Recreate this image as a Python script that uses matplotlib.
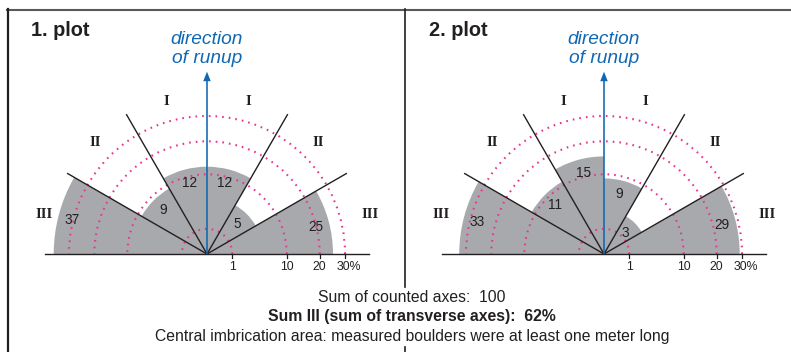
import numpy as np
import matplotlib
matplotlib.use("Agg")
import matplotlib.pyplot as plt
from matplotlib.patches import Wedge, Arc
from matplotlib.lines import Line2D

# ---------------- data ----------------
sector_names = ["III", "II", "I", "I", "II", "III"]          # left -> right
plot1_values = [37, 9, 12, 12, 5, 25]
plot2_values = [33, 11, 15, 9, 3, 29]
plot_titles = ["1. plot", "2. plot"]
ring_values = [1, 10, 20, 30]
ring_labels = ["1", "10", "20", "30%"]
summary_lines = ["Sum of counted axes:  100",
                 "Sum III (sum of transverse axes):  62%",
                 "Central imbrication area: measured boulders were at least one meter long"]

# ---------------- style ----------------
GREY = "#A7A9AC"
PINK = "#E8358F"
BLUE = "#1068B4"
INK = "#231F20"
SANS = ["Liberation Sans", "DejaVu Sans"]
SERIF = ["Liberation Serif", "DejaVu Serif"]

W, H = 791, 352
PX = 25.2            # pixels per sqrt(%) unit
fig = plt.figure(figsize=(W / 100, H / 100), dpi=100)

edges = [180, 150, 120, 90, 60, 30, 0]   # sector boundaries (deg), left->right
line_len = 6.41
num_angle = {"III": 14, "II": 45, "I": 76}


def make_panel(px_left, px_right, cx, cy, values, title):
    ax = fig.add_axes([px_left / W, (H - 290) / H, (px_right - px_left) / W, 280 / H])
    ax.set_xlim((px_left - cx) / PX, (px_right - cx) / PX)
    ax.set_ylim((cy - 290) / PX, (cy - 10) / PX)
    ax.axis("off")

    # grey sectors (radius ~ sqrt of percentage -> area proportional)
    for i, v in enumerate(values):
        a1, a0 = edges[i], edges[i + 1]
        ax.add_patch(Wedge((0, 0), np.sqrt(v), a0, a1, facecolor=GREY,
                           edgecolor="none", zorder=1))

    # dotted reference rings
    for rv in ring_values:
        r = np.sqrt(rv)
        ax.add_patch(Arc((0, 0), 2 * r, 2 * r, theta1=0, theta2=180,
                         color=PINK, lw=1.5, linestyle=(0, (0.8, 2.4)), zorder=2))

    # sector boundary lines
    for a in [150, 120, 60, 30]:
        t = np.deg2rad(a)
        ax.plot([0, line_len * np.cos(t)], [0, line_len * np.sin(t)],
                color=INK, lw=1.0, zorder=3, solid_capstyle="butt")
    # baseline
    ax.plot([-line_len, line_len], [0, 0], color=INK, lw=1.0, zorder=3)

    # ticks and labels
    for rv, lab in zip(ring_values, ring_labels):
        r = np.sqrt(rv)
        ax.plot([r, r], [0, -4 / PX], color=INK, lw=0.9, zorder=3)
        dx = 3.0 if lab.endswith("%") else 0
        ax.annotate(lab, (r, -12.7 / PX), xytext=(dx, 0), textcoords="offset points",
                    ha="center", va="center", fontsize=8.8, family=SANS, color=INK)

    # numbers inside sectors
    for i, v in enumerate(values):
        name = sector_names[i]
        base = num_angle[name]
        ang = 180 - base if i < 3 else base
        r = np.sqrt(v) - 0.55
        t = np.deg2rad(ang)
        ax.text(r * np.cos(t), r * np.sin(t), str(v), ha="center", va="center",
                fontsize=9.8, family=SANS, color=INK, zorder=4)

    # roman numerals outside
    for i, name in enumerate(sector_names):
        if name == "III":
            base, rr = 13.5, 6.65
        else:
            base = {"II": 45, "I": 75}[name]
            rr = 6.27
        ang = 180 - base if i < 3 else base
        t = np.deg2rad(ang)
        ax.text(rr * np.cos(t), rr * np.sin(t), name, ha="center", va="center",
                fontsize=10.5, family=SERIF, fontweight="bold", color=INK)

    # arrow
    ax.arrow(0, 0, 0, 182.3 / PX, width=1.6 / PX, head_width=7.5 / PX,
             head_length=9.5 / PX, length_includes_head=True, color=BLUE,
             lw=0, zorder=5)
    ax.text(0, (cy - 49) / PX, "direction\nof runup", ha="center", va="center",
            fontsize=13.8, style="italic", family=SANS, color=BLUE, linespacing=1.08)

    # title
    ax.text((px_left + 24 - cx) / PX, (cy - 31) / PX, title, ha="left", va="center",
            fontsize=14.3, fontweight="bold", family=SANS, color=INK)
    return ax


make_panel(7, 405, 207, 254, plot1_values, plot_titles[0])
make_panel(405, 791, 604, 254, plot2_values, plot_titles[1])

# frame lines
def fline(x0, y0, x1, y1, **kw):
    fig.add_artist(Line2D([x0 / W, x1 / W], [1 - y0 / H, 1 - y1 / H], **kw))

fline(7, 9.5, W, 9.5, color="#58595B", lw=1.5)
fline(7.5, 9, 7.5, H, color=INK, lw=1.6)
fline(405, 9, 405, 287, color=INK, lw=1.2)
fline(405, 347, 405, H, color=INK, lw=1.2)

# summary text
ys = [298, 317, 337]
weights = ["normal", "bold", "normal"]
for line, y, w in zip(summary_lines, ys, weights):
    fig.text(412 / W, 1 - y / H, line, ha="center", va="center", fontsize=11.3,
             fontweight=w, family=SANS, color=INK)

fig.savefig("out.png", dpi=100)
